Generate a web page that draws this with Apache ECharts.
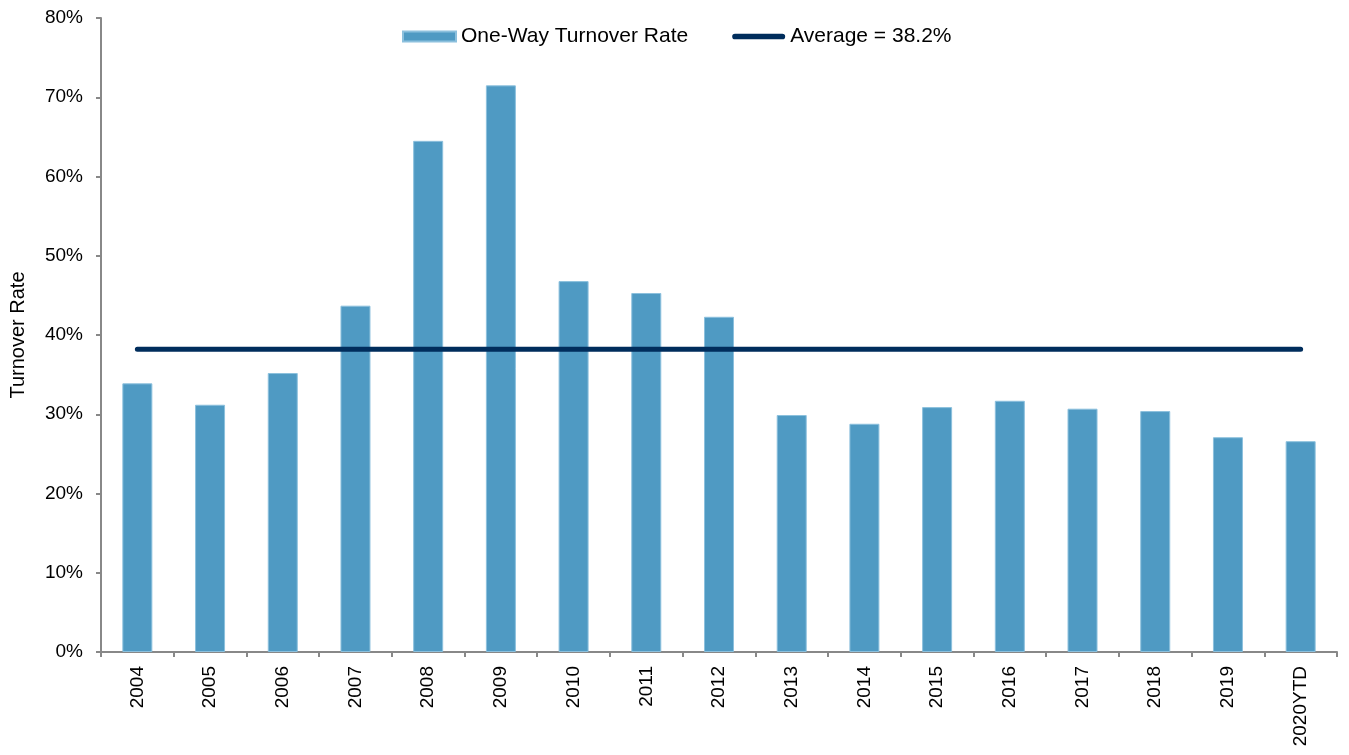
<!DOCTYPE html>
<html style="height: 100%">
<head>
    <meta charset="utf-8">
</head>
<body style="height: 100%; margin: 0">
    <div id="container" style="width: 1349px; height: 755px"></div>
    <script type="text/javascript" src="https://cdn.jsdelivr.net/npm/echarts@6/dist/echarts.min.js"></script>
    <script type="text/javascript">
        var years = ['2004', '2005', '2006', '2007', '2008', '2009', '2010', '2011', '2012',
            '2013', '2014', '2015', '2016', '2017', '2018', '2019', '2020YTD'];
        var turnover = [33.9, 31.2, 35.2, 43.7, 64.5, 71.5, 46.8, 45.3, 42.3,
            29.9, 28.8, 30.9, 31.7, 30.7, 30.4, 27.1, 26.6];
        var averageValue = 38.2;
        var average = years.map(function () { return averageValue; });

        var font = 'Liberation Sans, Arial, sans-serif';
        var myChart = echarts.init(document.getElementById('container'));

        // thick rounded line for the average legend icon
        var lineIcon = 'path://M3,0 L53,0 A3,3 0 0 1 53,6 L3,6 A3,3 0 0 1 3,0 Z';

        var option = {
            backgroundColor: '#fff',
            animation: false,
            textStyle: { fontFamily: font },
            grid: { left: 101, right: 12, top: 18, bottom: 103, outerBoundsMode: 'none' },
            legend: {
                top: 26,
                left: 402,
                padding: 0,
                itemGap: 44,
                itemWidth: 53,
                itemHeight: 10,
                textStyle: { fontFamily: font, fontSize: 21, color: '#000' },
                data: [
                    { name: 'One-Way Turnover Rate', icon: 'rect' },
                    { name: 'Average = ' + averageValue + '%', icon: lineIcon, itemStyle: { color: '#002d5c' } }
                ]
            },
            xAxis: {
                type: 'category',
                data: years,
                boundaryGap: true,
                axisLine: { lineStyle: { color: '#888', width: 2 } },
                axisTick: { show: true, length: 5, interval: 0, lineStyle: { color: '#888', width: 2 } },
                axisLabel: { rotate: 90, interval: 0, fontSize: 19, color: '#000', margin: 14, fontFamily: font }
            },
            yAxis: {
                type: 'value',
                min: 0,
                max: 80,
                interval: 10,
                name: 'Turnover Rate',
                nameLocation: 'middle',
                nameGap: 73,
                nameRotate: 90,
                nameTextStyle: { fontSize: 20, color: '#000', fontFamily: font },
                axisLine: { show: true, lineStyle: { color: '#888', width: 2 } },
                axisTick: { show: true, length: 5, lineStyle: { color: '#888', width: 2 } },
                splitLine: { show: false },
                axisLabel: { formatter: '{value}%', fontSize: 19, color: '#000', margin: 18, fontFamily: font }
            },
            series: [
                {
                    name: 'One-Way Turnover Rate',
                    type: 'bar',
                    data: turnover,
                    barWidth: 30,
                    itemStyle: { color: '#4f9ac3', borderColor: '#8cc0dd', borderWidth: 1 }
                },
                {
                    name: 'Average = ' + averageValue + '%',
                    type: 'line',
                    data: average,
                    symbol: 'none',
                    lineStyle: { color: '#002d5c', width: 5, cap: 'round' },
                    itemStyle: { color: '#002d5c' }
                }
            ]
        };

        myChart.setOption(option, true);
    </script>
</body>
</html>
